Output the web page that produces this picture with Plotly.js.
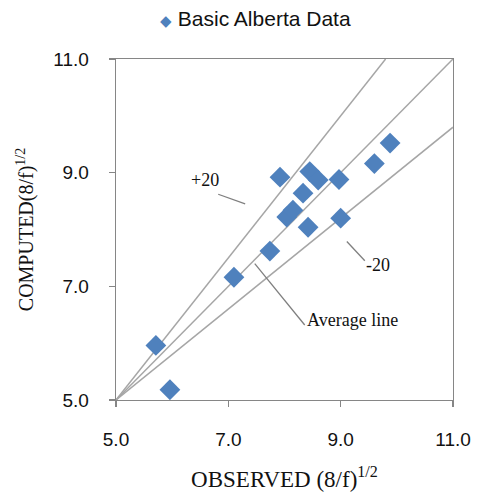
<!DOCTYPE html>
<html>
<head>
<meta charset="utf-8">
<script src="https://cdn.plot.ly/plotly-3.0.1.min.js"></script>
<style>html,body{margin:0;padding:0;background:#fff;}#chart{width:481px;height:497px;}</style>
</head>
<body>
<div id="chart"></div>
<script>
// Observed vs computed (8/f)^1/2
const observed = [5.71, 5.96, 7.10, 7.74, 7.92, 8.04, 8.15, 8.33, 8.42, 8.45, 8.60, 8.97, 9.00, 9.60, 9.88];
const computed = [5.96, 5.18, 7.16, 7.62, 8.92, 8.22, 8.34, 8.64, 8.04, 9.02, 8.87, 8.88, 8.20, 9.16, 9.52];

// Reference lines through (5,5)
const avgLineX = [5, 11];
const avgLineY = [5, 11];
const plusLineX = [5, 9.8];
const plusLineY = [5, 11];
const minusLineX = [5, 11];
const minusLineY = [5, 9.8];

const tickVals = [5, 7, 9, 11];
const tickText = ['5.0', '7.0', '9.0', '11.0'];

const seriesName = 'Basic Alberta Data';
const blue = '#4F81BD';
const lineGrey = '#A6A6A6';

const lineStyle = {color: lineGrey, width: 1.5};

const traces = [
  {x: avgLineX, y: avgLineY, mode: 'lines', line: lineStyle, showlegend: false, hoverinfo: 'skip'},
  {x: plusLineX, y: plusLineY, mode: 'lines', line: lineStyle, showlegend: false, hoverinfo: 'skip'},
  {x: minusLineX, y: minusLineY, mode: 'lines', line: lineStyle, showlegend: false, hoverinfo: 'skip'},
  {x: observed, y: computed, mode: 'markers', name: seriesName, showlegend: false,
   marker: {symbol: 'diamond', size: 16, color: blue, line: {width: 0}}}
];

const axisCommon = {
  range: [5, 11],
  tickvals: tickVals,
  ticktext: tickText,
  ticks: 'outside',
  ticklen: 6,
  tickwidth: 1.3,
  tickcolor: '#868686',
  showline: true,
  linecolor: '#868686',
  linewidth: 1.3,
  mirror: true,
  showgrid: false,
  zeroline: false,
  ticklabelstandoff: 16,
  tickfont: {family: 'Liberation Sans, Arial, sans-serif', size: 19, color: '#111'},
  automargin: false
};

const serif = 'Liberation Serif, Times New Roman, serif';

const layout = {
  width: 481,
  height: 497,
  margin: {l: 116, r: 28, t: 59, b: 97},
  paper_bgcolor: '#fff',
  plot_bgcolor: '#fff',
  showlegend: false,
  xaxis: Object.assign({}, axisCommon, {
    title: {text: 'OBSERVED (8/f)<sup>1/2</sup>', font: {family: serif, size: 23, color: '#111'}, standoff: 21}
  }),
  yaxis: Object.assign({}, axisCommon, {
    title: {text: 'COMPUTED(8/f)<sup>1/2</sup>', font: {family: serif, size: 20, color: '#111'}, standoff: 14}
  }),
  shapes: [
    {type: 'line', xref: 'x', yref: 'y', x0: 6.82, y0: 8.62, x1: 7.30, y1: 8.45, line: {color: '#7F7F7F', width: 1.3}},
    {type: 'line', xref: 'x', yref: 'y', x0: 9.11, y0: 7.79, x1: 9.43, y1: 7.45, line: {color: '#7F7F7F', width: 1.3}},
    {type: 'line', xref: 'x', yref: 'y', x0: 7.47, y0: 7.40, x1: 8.36, y1: 6.32, line: {color: '#7F7F7F', width: 1.3}}
  ],
  annotations: [
    {x: 0.126, y: 1.12, xref: 'paper', yref: 'paper', xanchor: 'left', yanchor: 'middle', showarrow: false,
     text: '<span style="color:' + blue + ';font-size:15px">◆</span> ' + seriesName,
     font: {family: 'Liberation Sans, Arial, sans-serif', size: 21, color: '#111'}},
    {x: 6.58, y: 8.87, xref: 'x', yref: 'y', text: '+20', showarrow: false, font: {family: serif, size: 18, color: '#111'}},
    {x: 9.66, y: 7.37, xref: 'x', yref: 'y', text: '-20', showarrow: false, font: {family: serif, size: 18, color: '#111'}},
    {x: 8.36, y: 6.41, xref: 'x', yref: 'y', xanchor: 'left', text: 'Average line', showarrow: false, font: {family: serif, size: 18, color: '#111'}}
  ]
};

Plotly.newPlot('chart', traces, layout, {displayModeBar: false, staticPlot: true});
</script>
</body>
</html>
